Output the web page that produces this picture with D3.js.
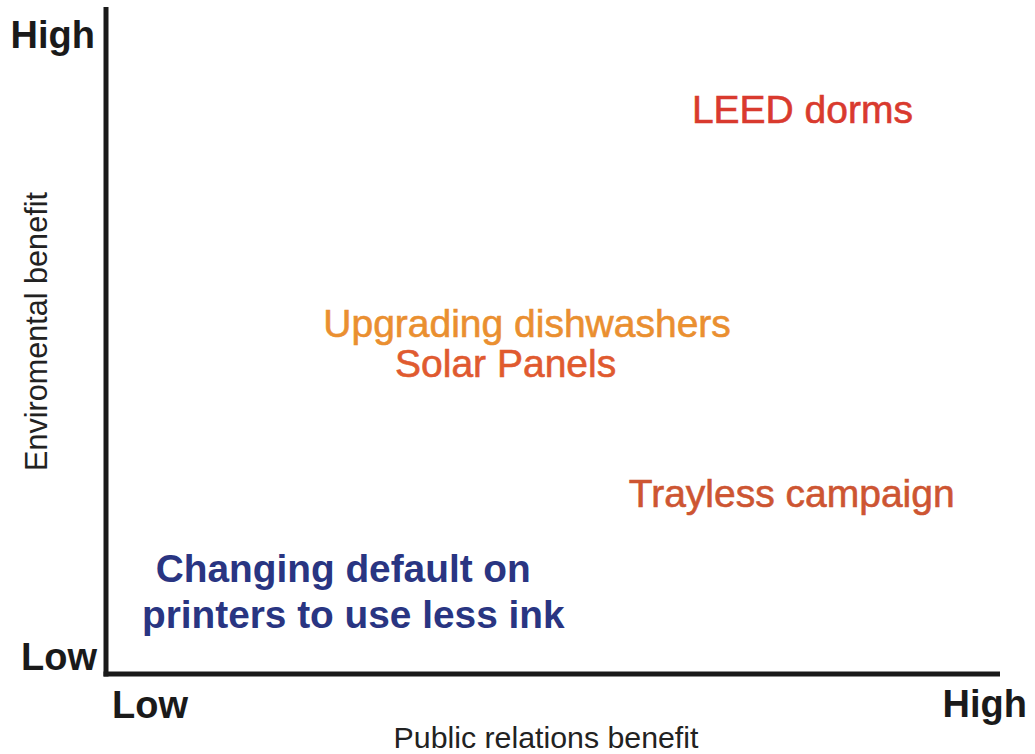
<!DOCTYPE html>
<html>
<head>
<meta charset="utf-8">
<script src="https://cdn.jsdelivr.net/npm/d3@7"></script>
<style>
  html, body { margin: 0; padding: 0; background: #fff; }
  svg { display: block; font-family: "Liberation Sans", Arial, Helvetica, sans-serif; }
</style>
</head>
<body>
<svg id="chart" width="1035" height="754"></svg>
<script>
// ---- data ----
const labels = ["LEED dorms", "Upgrading dishwashers", "Solar Panels", "Trayless campaign", "Changing default on\nprinters to use less ink"];
const prBenefit = [7.79, 4.71, 4.47, 7.67, 2.71];      // x (Public relations benefit, 0..10)
const envBenefit = [8.26, 5.05, 4.45, 2.50, 1.38];     // y (Environmental benefit, 0..10)
const colors = ["#d93a2e", "#ea8f30", "#e05a2f", "#cd5532", "#293582"];
const weights = ["normal", "normal", "normal", "normal", "bold"];
const xTickLabels = ["Low", "High"];
const yTickLabels = ["Low", "High"];
const xTitle = "Public relations benefit";
const yTitle = "Enviromental benefit";

// ---- layout ----
const svg = d3.select("#chart");
const x0 = 106, x1 = 1000, y0 = 674, y1 = 7;
const x = d3.scaleLinear().domain([0, 10]).range([x0, x1]);
const y = d3.scaleLinear().domain([0, 10]).range([y0, y1]);

// axes lines
svg.append("line")
  .attr("x1", x(0)).attr("x2", x(0))
  .attr("y1", y(10)).attr("y2", y(0) + 2.5)
  .attr("stroke", "#1a1a1a").attr("stroke-width", 5);
svg.append("line")
  .attr("x1", x(0) - 2.5).attr("x2", x(10))
  .attr("y1", y(0)).attr("y2", y(0))
  .attr("stroke", "#1a1a1a").attr("stroke-width", 5);

// y tick labels (Low / High)
svg.append("text").text(yTickLabels[1])
  .attr("x", x(0) - 11).attr("y", y(10) + 41)
  .attr("text-anchor", "end").attr("font-size", 38).attr("font-weight", "bold").attr("fill", "#1a1a1a");
svg.append("text").text(yTickLabels[0])
  .attr("x", x(0) - 9).attr("y", y(0) - 4)
  .attr("text-anchor", "end").attr("font-size", 38).attr("font-weight", "bold").attr("fill", "#1a1a1a");

// x tick labels
svg.append("text").text(xTickLabels[0])
  .attr("x", x(0) + 6).attr("y", y(0) + 44)
  .attr("text-anchor", "start").attr("font-size", 38).attr("font-weight", "bold").attr("fill", "#1a1a1a");
svg.append("text").text(xTickLabels[1])
  .attr("x", x(10) + 27).attr("y", y(0) + 43)
  .attr("text-anchor", "end").attr("font-size", 38).attr("font-weight", "bold").attr("fill", "#1a1a1a");

// axis titles
svg.append("text").text(xTitle)
  .attr("x", (x(0) + x(10)) / 2 - 7).attr("y", 748)
  .attr("text-anchor", "middle").attr("font-size", 30.3).attr("fill", "#222");
svg.append("text").text(yTitle)
  .attr("transform", `translate(47, ${(193 + 470) / 2}) rotate(-90)`)
  .attr("text-anchor", "middle").attr("font-size", 30.6).attr("fill", "#222");

// data labels
const data = labels.map((l, i) => ({ label: l, px: prBenefit[i], ev: envBenefit[i], color: colors[i], weight: weights[i] }));
const g = svg.append("g");
const t = g.selectAll("text.item").data(data).join("text")
  .attr("class", "item")
  .attr("x", d => x(d.px))
  .attr("y", d => y(d.ev))
  .attr("text-anchor", "middle")
  .attr("font-size", d => d.weight === "bold" ? 38.8 : 39)
  .attr("font-weight", d => d.weight)
  .attr("fill", d => d.color)
  .attr("stroke", d => d.weight === "bold" ? "none" : d.color)
  .attr("stroke-width", 0.6);
t.each(function(d) {
  const lines = d.label.split("\n");
  d3.select(this).selectAll("tspan").data(lines).join("tspan")
    .attr("x", (l, i) => x(d.px) + (lines.length > 1 ? (i === 0 ? -5 : 5) : 0))
    .attr("dy", (l, i) => i === 0 ? 0 : 46)
    .text(l => l);
});
</script>
</body>
</html>
